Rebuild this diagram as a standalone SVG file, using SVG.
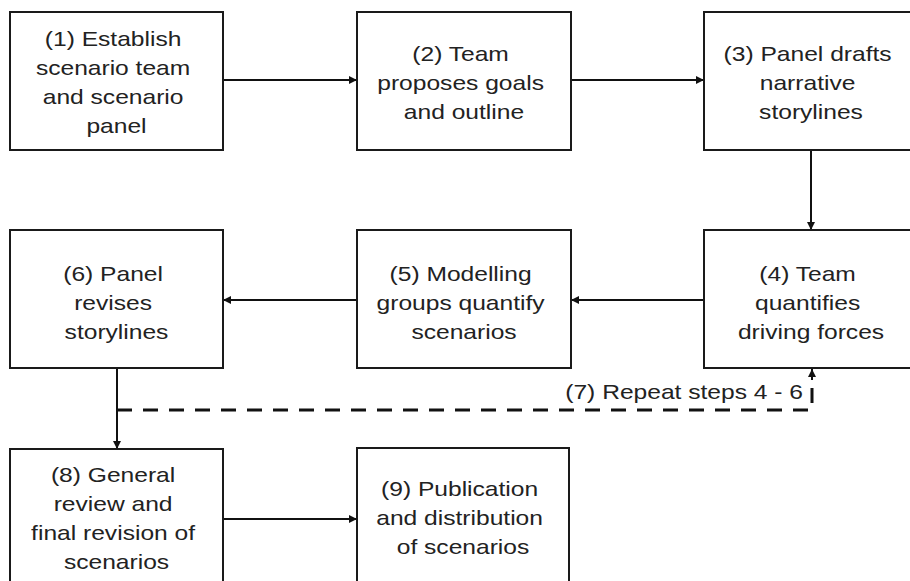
<svg xmlns="http://www.w3.org/2000/svg" width="910" height="581" viewBox="0 0 910 581">
  <defs>
    <style>
      .box { fill: #ffffff; stroke: #1a1a1a; stroke-width: 2; }
      .lbl { font-family: "Liberation Sans", Arial, sans-serif; font-size: 20.5px; fill: #222222; text-anchor: middle; }
      .edge { fill: none; stroke: #111111; stroke-width: 2; }
      .dash { fill: none; stroke: #111111; stroke-width: 3; stroke-dasharray: 15 11; }
    </style>
    <marker id="arrow" viewBox="0 0 10 10" refX="10" refY="5" markerWidth="10" markerHeight="8" markerUnits="userSpaceOnUse" orient="auto">
      <path d="M0,0 L10,5 L0,10 z" fill="#111111"/>
    </marker>
  </defs>

  <rect width="910" height="581" fill="#ffffff"/>

  <!-- connectors -->
  <g id="connectors">
    <path class="edge" d="M223,80 H357" marker-end="url(#arrow)"/>
    <path class="edge" d="M571,80 H704" marker-end="url(#arrow)"/>
    <path class="edge" d="M811,150 V230" marker-end="url(#arrow)"/>
    <path class="edge" d="M704,300 H571" marker-end="url(#arrow)"/>
    <path class="edge" d="M357,300 H223" marker-end="url(#arrow)"/>
    <path class="edge" d="M117,368 V449" marker-end="url(#arrow)"/>
    <path class="edge" d="M223,519 H357" marker-end="url(#arrow)"/>
    <path class="dash" d="M117,410 H812 V378"/>
    <path class="edge" d="M812,380 V369" marker-end="url(#arrow)"/>
    <text class="lbl" style="text-anchor:end" transform="matrix(1.2 0 0 1 803 399)" x="0" y="0">(7) Repeat steps 4 - 6</text>
  </g>

  <g id="n1">
    <rect class="box" x="10" y="12" width="213" height="138"/>
    <text class="lbl" transform="matrix(1.2 0 0 1 116.5 0)">
      <tspan x="0" y="46">(1) Establish</tspan>
      <tspan x="0" y="75">scenario team</tspan>
      <tspan x="0" y="104">and scenario</tspan>
      <tspan x="0" y="133">panel</tspan>
    </text>
  </g>

  <g id="n2">
    <rect class="box" x="357" y="12" width="214" height="138"/>
    <text class="lbl" transform="matrix(1.2 0 0 1 464 0)">
      <tspan x="0" y="61">(2) Team</tspan>
      <tspan x="0" y="90">proposes goals</tspan>
      <tspan x="0" y="119">and outline</tspan>
    </text>
  </g>

  <g id="n3">
    <rect class="box" x="704" y="12" width="214" height="138"/>
    <text class="lbl" transform="matrix(1.2 0 0 1 811 0)">
      <tspan x="0" y="61">(3) Panel drafts</tspan>
      <tspan x="0" y="90">narrative</tspan>
      <tspan x="0" y="119">storylines</tspan>
    </text>
  </g>

  <g id="n4">
    <rect class="box" x="704" y="230" width="214" height="138"/>
    <text class="lbl" transform="matrix(1.2 0 0 1 811 0)">
      <tspan x="0" y="281">(4) Team</tspan>
      <tspan x="0" y="310">quantifies</tspan>
      <tspan x="0" y="339">driving forces</tspan>
    </text>
  </g>

  <g id="n5">
    <rect class="box" x="357" y="230" width="214" height="138"/>
    <text class="lbl" transform="matrix(1.2 0 0 1 464 0)">
      <tspan x="0" y="281">(5) Modelling</tspan>
      <tspan x="0" y="310">groups quantify</tspan>
      <tspan x="0" y="339">scenarios</tspan>
    </text>
  </g>

  <g id="n6">
    <rect class="box" x="10" y="230" width="213" height="138"/>
    <text class="lbl" transform="matrix(1.2 0 0 1 116.5 0)">
      <tspan x="0" y="281">(6) Panel</tspan>
      <tspan x="0" y="310">revises</tspan>
      <tspan x="0" y="339">storylines</tspan>
    </text>
  </g>

  <g id="n8">
    <rect class="box" x="10" y="449" width="213" height="140"/>
    <text class="lbl" transform="matrix(1.2 0 0 1 116.5 0)">
      <tspan x="0" y="482">(8) General</tspan>
      <tspan x="0" y="511">review and</tspan>
      <tspan x="0" y="540">final revision of</tspan>
      <tspan x="0" y="569">scenarios</tspan>
    </text>
  </g>

  <g id="n9">
    <rect class="box" x="357" y="448" width="212" height="140"/>
    <text class="lbl" transform="matrix(1.2 0 0 1 463 0)">
      <tspan x="0" y="496">(9) Publication</tspan>
      <tspan x="0" y="525">and distribution</tspan>
      <tspan x="0" y="554">of scenarios</tspan>
    </text>
  </g>
</svg>
